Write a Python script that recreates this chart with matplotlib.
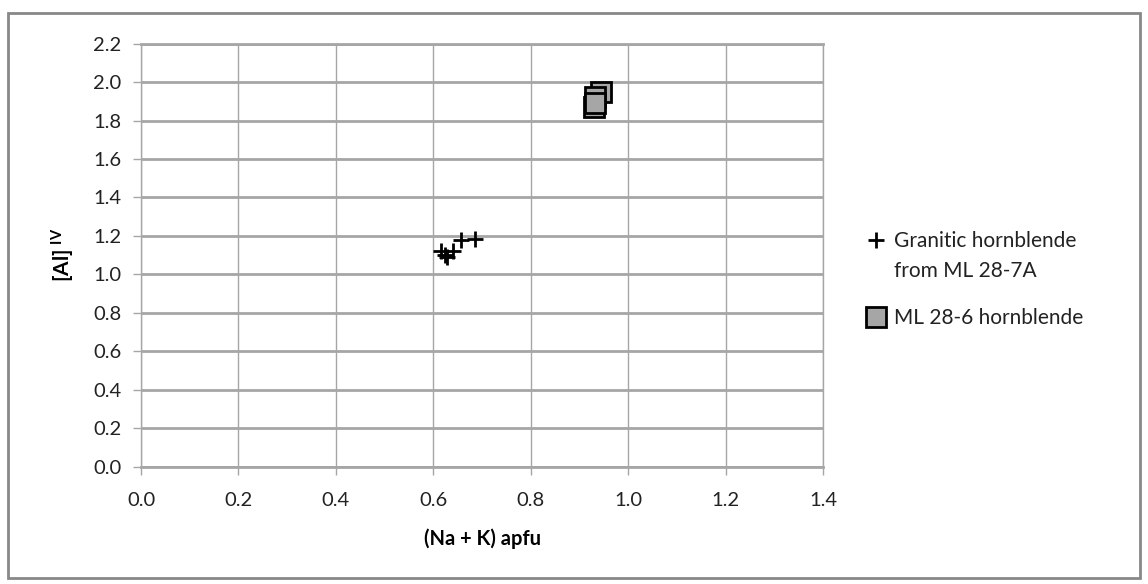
import matplotlib.pyplot as plt
from matplotlib.patches import Rectangle

plt.rcParams['font.family'] = ['Lato', 'DejaVu Sans']
plt.rcParams['mathtext.default'] = 'regular'

# granitic hornblende (ML 28-7A)
gran_x = [0.615, 0.625, 0.628, 0.640, 0.657, 0.685]
gran_y = [1.12, 1.10, 1.09, 1.12, 1.18, 1.185]
# ML 28-6 hornblende
ml_x = [0.945, 0.932, 0.930, 0.932]
ml_y = [1.95, 1.92, 1.87, 1.89]

x_ticks = [0.0, 0.2, 0.4, 0.6, 0.8, 1.0, 1.2, 1.4]
y_ticks = [0.0, 0.2, 0.4, 0.6, 0.8, 1.0, 1.2, 1.4, 1.6, 1.8, 2.0, 2.2]

grid_col = '#a6a6a6'

fig = plt.figure(figsize=(11.48, 5.84), dpi=100)
fig.patches.append(Rectangle((8 / 1148, 6 / 584), 1132 / 1148, 565 / 584,
                             transform=fig.transFigure, fill=False,
                             edgecolor='#888888', linewidth=2))
ax = fig.add_axes([141 / 1148, 117.3 / 584, 682 / 1148, 423.1 / 584])

ax.plot(gran_x, gran_y, linestyle='none', marker='+', markersize=12,
        markeredgewidth=2, color='black', label='Granitic hornblende', zorder=3)
ax.plot(ml_x, ml_y, linestyle='none', marker='s', markersize=14,
        markerfacecolor='#a6a6a6', markeredgecolor='black', markeredgewidth=2,
        label='ML 28-6 hornblende', zorder=3)

ax.set_xlim(0, 1.4)
ax.set_ylim(0, 2.2)
ax.set_xticks(x_ticks)
ax.set_yticks(y_ticks)
ax.set_xticklabels(['%.1f' % v for v in x_ticks])
ax.set_yticklabels(['%.1f' % v for v in y_ticks])
ax.tick_params(labelsize=14.5, colors='#222222', length=6, width=1, pad=8)
ax.tick_params(axis='x', color=grid_col, pad=12)
ax.tick_params(axis='y', color=grid_col)
ax.grid(axis='y', color=grid_col, linewidth=2)
ax.grid(axis='x', color=grid_col, linewidth=1)
ax.set_axisbelow(True)
for s in ax.spines.values():
    s.set_color(grid_col)
ax.spines['left'].set_linewidth(1)
ax.spines['right'].set_linewidth(1)
ax.spines['top'].set_linewidth(2)
ax.spines['bottom'].set_linewidth(2)

ax.set_xlabel('(Na + K) apfu', fontsize=14.5, fontweight='bold', labelpad=14)
ax.set_ylabel('[Al]$^{\\ IV}$', fontsize=15, fontweight='bold', labelpad=12)

leg = fig.legend(loc='upper left', bbox_to_anchor=(866 / 1148, 1 - 231 / 584),
                 frameon=False, fontsize=15, handlelength=1.0, handletextpad=0.35,
                 labelspacing=2.75, borderaxespad=0, borderpad=0)

# second line of the first legend label, under its first line
fig.canvas.draw()
bb = leg.get_texts()[0].get_window_extent()
fig.text(bb.x0 / 1148, (bb.y0 - 30) / 584, 'from ML 28-7A', fontsize=15,
         ha='left', va='bottom', color='#222222')
for t in leg.get_texts():
    t.set_color('#222222')

fig.savefig('out.png', dpi=100)
